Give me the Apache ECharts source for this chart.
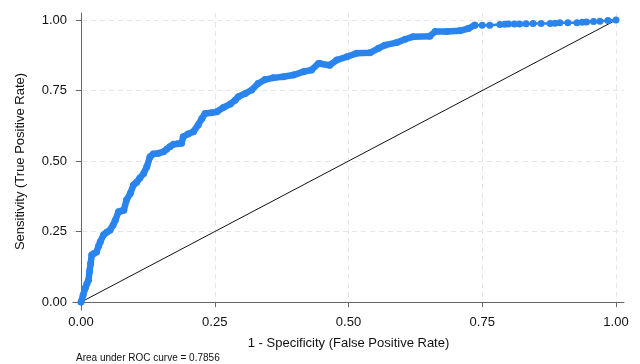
<!DOCTYPE html>
<html><head><meta charset="utf-8">
<script src="https://cdn.jsdelivr.net/npm/echarts@6/dist/echarts.min.js"></script>
<style>html,body{margin:0;padding:0;background:#fff}#c{width:640px;height:364px}</style>
</head><body><div id="c"></div>
<script>
// ROC curve (dense part)
const fpr = [0,0.004,0.008,0.011,0.014,0.016,0.018,0.02,0.024,0.029,0.033,0.036,0.042,0.048,0.054,0.06,0.064,0.07,0.075,0.08,0.085,0.092,0.098,0.104,0.11,0.117,0.123,0.129,0.135,0.145,0.154,0.16,0.166,0.173,0.18,0.188,0.191,0.2,0.21,0.219,0.226,0.232,0.244,0.254,0.266,0.279,0.288,0.294,0.307,0.319,0.331,0.344,0.359,0.378,0.397,0.416,0.431,0.444,0.447,0.465,0.478,0.497,0.515,0.54,0.556,0.568,0.59,0.606,0.621,0.652,0.662,0.684,0.708,0.724,0.736];
const tpr = [0,0.025,0.05,0.065,0.078,0.11,0.137,0.167,0.172,0.178,0.2,0.214,0.238,0.248,0.255,0.273,0.29,0.32,0.323,0.326,0.362,0.385,0.415,0.425,0.44,0.456,0.48,0.515,0.525,0.528,0.533,0.542,0.551,0.56,0.561,0.563,0.586,0.596,0.604,0.628,0.651,0.669,0.671,0.675,0.69,0.702,0.716,0.728,0.74,0.752,0.775,0.789,0.795,0.799,0.805,0.817,0.823,0.846,0.846,0.84,0.858,0.87,0.882,0.884,0.9,0.911,0.92,0.932,0.941,0.943,0.959,0.959,0.962,0.97,0.982];
// ROC curve (sparse upper-right part)
const tailFpr = [0.736,0.75,0.764,0.783,0.792,0.799,0.81,0.82,0.832,0.845,0.86,0.877,0.886,0.895,0.91,0.927,0.937,0.945,0.958,0.97,0.985,1];
const tailTpr = [0.982,0.982,0.982,0.984,0.985,0.986,0.986,0.986,0.987,0.988,0.988,0.988,0.989,0.99,0.99,0.99,0.992,0.993,0.995,0.996,0.998,1];
// Reference line
const refX = [0,1];
const refY = [0,1];
const ticks = [0,0.25,0.5,0.75,1];
const xTitle = '1 - Specificity (False Positive Rate)';
const yTitle = 'Sensitivity (True Positive Rate)';
const note = 'Area under ROC curve = 0.7856';

const blue = '#2a84ee';
const font = 'Liberation Sans, Arial, Helvetica, sans-serif';
const zip = (a,b) => a.map((v,i)=>[v,b[i]]);

const axisCommon = {
  type:'value',
  axisLine:{show:true,lineStyle:{color:'#666',width:1}},
  axisTick:{show:true,length:5,customValues:ticks,lineStyle:{color:'#666'}},
  axisLabel:{customValues:ticks,color:'#111',fontSize:13,fontFamily:font,formatter:v=>v.toFixed(2)},
  splitLine:{show:true,lineStyle:{color:'#e6e6e6',type:[5,4],width:1}},
  nameTextStyle:{color:'#111',fontSize:13,fontFamily:font}
};

const chart = echarts.init(document.getElementById('c'),null,{renderer:'canvas'});
chart.setOption({
  animation:false,
  backgroundColor:'#fff',
  grid:{left:73,right:16,top:13,bottom:54,containLabel:false},
  xAxis:Object.assign({},axisCommon,{min:-0.015,max:1.015,name:xTitle,nameLocation:'middle',nameGap:27,
    axisLabel:Object.assign({},axisCommon.axisLabel,{margin:6})}),
  yAxis:Object.assign({},axisCommon,{min:-0.028,max:1.025,name:yTitle,nameLocation:'middle',nameGap:46,
    axisLabel:Object.assign({},axisCommon.axisLabel,{margin:6})}),
  graphic:[{type:'text',left:76,top:353,style:{text:note,fontSize:10,fontFamily:font,fill:'#111'}}],
  series:[
    {type:'line',data:zip(refX,refY),showSymbol:false,lineStyle:{color:'#111',width:1},silent:true,z:1},
    {type:'line',data:zip(fpr,tpr),symbol:'circle',symbolSize:7,showSymbol:true,
      itemStyle:{color:blue},lineStyle:{color:blue,width:6.5,cap:'round',join:'round'},z:3},
    {type:'line',data:zip(tailFpr,tailTpr),symbol:'circle',symbolSize:7,showSymbol:true,
      itemStyle:{color:blue},lineStyle:{color:blue,width:2.5},z:3}
  ]
});
</script></body></html>
